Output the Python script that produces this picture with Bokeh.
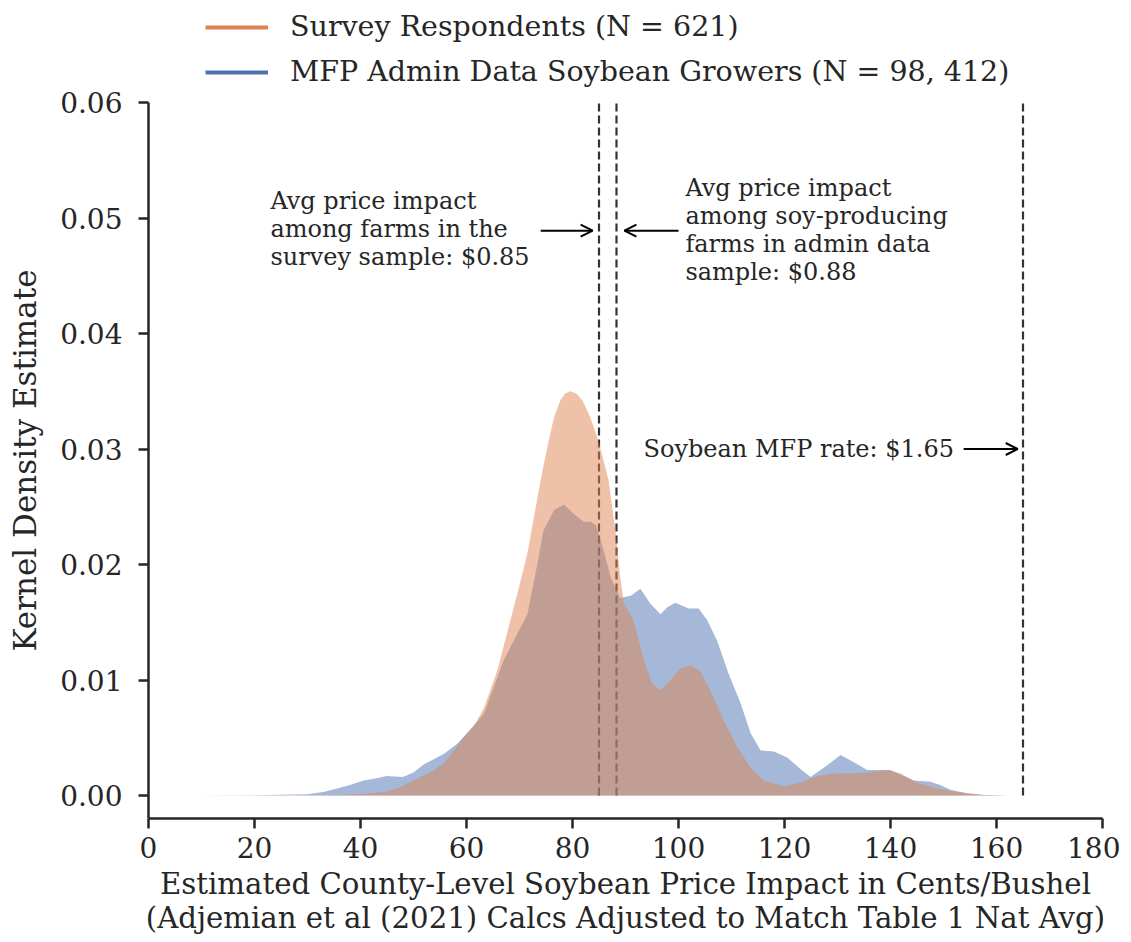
from bokeh.plotting import figure
from bokeh.layouts import column
from bokeh.models import (Range1d, Legend, LegendItem, Arrow, OpenHead, Label,
                          NumeralTickFormatter)
from bokeh.embed import file_html
from bokeh.resources import INLINE

# ---- data ----
admin_x = [7.5, 20, 30, 33, 35.6, 38, 40.6, 43, 45, 48, 50, 52, 55.7, 58.3, 61.3,
           63.3, 67, 68.9, 71.5, 73.4, 74.5, 76.5, 78.4, 80.2, 82.1, 83.4, 84.4,
           85.9, 87.2, 89, 91, 92.8, 94.7, 96.6, 97.9, 99.4, 101.9, 103.8, 105.4,
           107.3, 109.4, 111.7, 113.6, 115.5, 118, 120.5, 123, 124.9, 127.4,
           130.6, 133, 135.6, 140, 142.5, 144.4, 147.5, 149.4, 151.3, 154.4,
           157.6, 162, 170, 180]
admin_y = [0.0, 0.00003, 0.0001, 0.0003, 0.0006, 0.0009, 0.0013, 0.0015, 0.0017,
           0.0016, 0.002, 0.0027, 0.0036, 0.0045, 0.006, 0.0071, 0.0117, 0.0134,
           0.0157, 0.0201, 0.0229, 0.0247, 0.0252, 0.0244, 0.0237, 0.0237,
           0.0234, 0.0212, 0.0189, 0.0171, 0.0173, 0.0179, 0.0166, 0.0157,
           0.0163, 0.0167, 0.0162, 0.0162, 0.0152, 0.0134, 0.0106, 0.008,
           0.0054, 0.0039, 0.0038, 0.0033, 0.0023, 0.0016, 0.0024, 0.0035,
           0.0029, 0.0022, 0.0022, 0.0017, 0.0013, 0.0012, 0.0009, 0.0005,
           0.0002, 0.00005, 0.0, 0.0, 0.0]

survey_x = [28, 35, 39.4, 44.3, 47, 50, 53.2, 55.7, 57.6, 59.4, 61.3, 62, 63.3,
            65.8, 68.3, 70, 71.5, 73.4, 74.5, 75.5, 76.5, 77.7, 78.6, 79.6,
            80.7, 81.9, 83.3, 84.9, 86.8, 88.1, 89, 89.7, 91.5, 93.5, 95, 96.6,
            98.5, 100.4, 102.3, 104.2, 106, 108.5, 111.1, 113.6, 116, 119.9,
            123, 126.2, 129.3, 133, 135.6, 139.4, 141.9, 145, 148.1, 151.3,
            154.4, 157.6, 163]
survey_y = [0.0, 0.00005, 0.0001, 0.0003, 0.0006, 0.0013, 0.002, 0.0028, 0.0039,
            0.005, 0.006, 0.0065, 0.0076, 0.0108, 0.0152, 0.0182, 0.021, 0.0258,
            0.0285, 0.0307, 0.0327, 0.0342, 0.0348, 0.035, 0.0348, 0.0342,
            0.0328, 0.0307, 0.0273, 0.0229, 0.0189, 0.0166, 0.0152, 0.0117,
            0.0097, 0.0091, 0.01, 0.011, 0.0113, 0.0107, 0.0091, 0.0065,
            0.0042, 0.0024, 0.0013, 0.0008, 0.0011, 0.0017, 0.0019, 0.0019,
            0.002, 0.0022, 0.0019, 0.0011, 0.0007, 0.0004, 0.0002, 0.00005, 0.0]

mean_lines = [85, 88.3, 165]
x_ticks = [0, 20, 40, 60, 80, 100, 120, 140, 160, 180]
y_ticks = [0.0, 0.01, 0.02, 0.03, 0.04, 0.05, 0.06]

series_labels = ["Survey Respondents (N = 621)",
                 "MFP Admin Data Soybean Growers (N = 98, 412)"]

ORANGE = "#dd8452"
BLUE = "#4c72b0"
INK = "#262626"
FONT = "DejaVu Serif"

# ---------- legend strip (separate figure above the plot) ----------
leg = figure(width=1120, height=88, x_range=Range1d(0, 1), y_range=Range1d(0, 1),
             output_backend="svg", toolbar_location=None,
             x_axis_location=None, y_axis_location=None,
             min_border=0)
leg.outline_line_color = None
leg.xgrid.visible = False
leg.ygrid.visible = False
r_s = leg.line(x=[0, 1], y=[-1, -1], line_color=ORANGE, line_width=4)
r_a = leg.line(x=[0, 1], y=[-1, -1], line_color=BLUE, line_width=4)
legend = Legend(items=[LegendItem(label=series_labels[0], renderers=[r_s]),
                       LegendItem(label=series_labels[1], renderers=[r_a])],
                location=(57, 0), orientation="vertical",
                label_text_font=FONT, label_text_font_size="28.5px",
                label_text_color=INK, glyph_width=63, glyph_height=30,
                label_standoff=22, spacing=12, padding=0, margin=0,
                border_line_alpha=0, background_fill_alpha=0)
leg.add_layout(legend, "center")

# ---------- main plot ----------
p = figure(width=1120, height=852, x_range=Range1d(0, 180),
           y_range=Range1d(-0.00199, 0.06), output_backend="svg",
           toolbar_location=None, min_border_left=148, min_border_right=18,
           min_border_top=14, min_border_bottom=122)
p.outline_line_color = None
p.xgrid.visible = False
p.ygrid.visible = False
p.background_fill_color = "white"

# dashed mean lines (under the fills)
p.segment(x0=mean_lines, y0=[0] * 3, x1=mean_lines, y1=[0.06] * 3,
          line_color="#333333", line_width=2.2, line_dash="8 4")

p.varea(x=admin_x, y1=[0] * len(admin_x), y2=admin_y, fill_color=BLUE,
        fill_alpha=0.5)
p.varea(x=survey_x, y1=[0] * len(survey_x), y2=survey_y, fill_color=ORANGE,
        fill_alpha=0.5)

for ax in (p.xaxis[0], p.yaxis[0]):
    ax.axis_line_width = 2.5
    ax.axis_line_color = INK
    ax.major_tick_line_width = 2.5
    ax.major_tick_line_color = INK
    ax.major_tick_out = 10
    ax.major_tick_in = 0
    ax.minor_tick_line_color = None
    ax.major_label_text_font = FONT
    ax.major_label_text_font_size = "28px"
    ax.major_label_text_color = INK
    ax.axis_label_text_font = FONT
    ax.axis_label_text_font_style = "normal"
    ax.axis_label_text_color = INK

p.xaxis.ticker = x_ticks
p.yaxis.ticker = y_ticks
p.yaxis.formatter = NumeralTickFormatter(format="0.00")
p.xaxis.major_label_standoff = 8
p.yaxis.major_label_standoff = 16
p.xaxis.axis_label = ("Estimated County-Level Soybean Price Impact in Cents/Bushel\n"
                      "(Adjemian et al (2021) Calcs Adjusted to Match Table 1 Nat Avg)")
p.yaxis.axis_label = "Kernel Density Estimate"
p.xaxis.axis_label_text_font_size = "29.2px"
p.xaxis.axis_label_text_line_height = 1.0
p.yaxis.axis_label_text_font_size = "31px"
p.xaxis.axis_label_standoff = 6
p.yaxis.axis_label_standoff = 14

# annotations
ann_style = dict(text_font=FONT, text_font_size="24px", text_color=INK,
                 text_line_height=1.0)
p.add_layout(Label(x=23, y=0.0527, text="Avg price impact\namong farms in the\nsurvey sample: $0.85",
                   text_align="left", text_baseline="top", **ann_style))
p.add_layout(Label(x=101.3, y=0.0538,
                   text="Avg price impact\namong soy-producing\nfarms in admin data\nsample: $0.88",
                   text_align="left", text_baseline="top", **ann_style))
p.add_layout(Label(x=93.4, y=0.030, text="Soybean MFP rate: $1.65",
                   text_align="left", text_baseline="middle", **ann_style))

for xs, xe, yy in [(74, 83.8, 0.0489), (100, 89.8, 0.0489), (153.8, 164, 0.0300)]:
    p.add_layout(Arrow(end=OpenHead(size=12, line_width=2, line_color="black"),
                       x_start=xs, y_start=yy, x_end=xe, y_end=yy,
                       line_width=2, line_color="black"))

layout = column(leg, p, spacing=0)
open("out.html", "w").write(file_html(layout, INLINE))
